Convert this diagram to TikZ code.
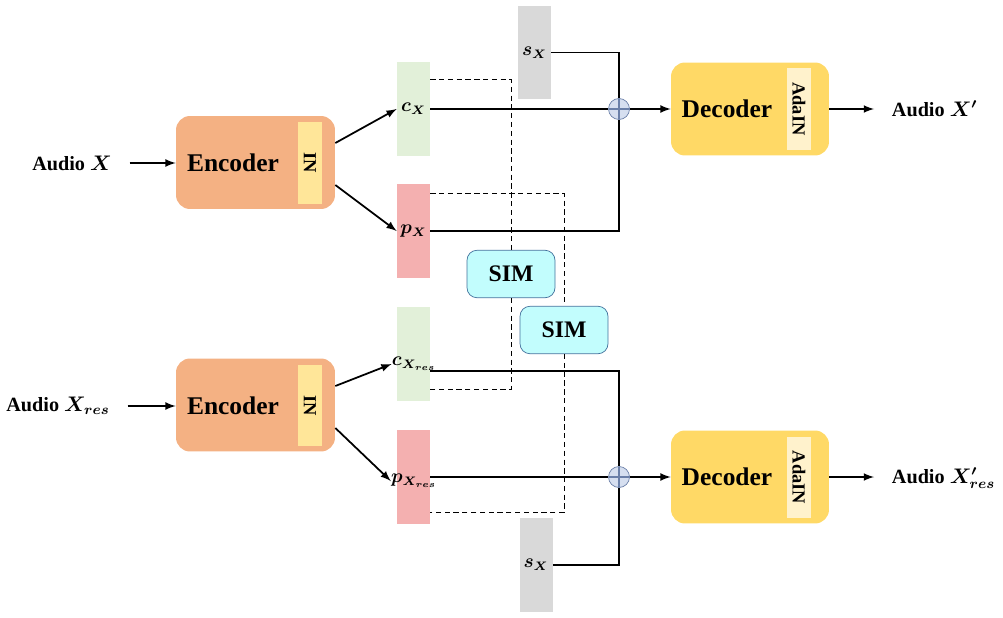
\documentclass[tikz,border=0pt]{standalone}
\usepackage{fontspec}
\setmainfont{Liberation Serif}
\usepackage{bm}
\definecolor{encfill}{HTML}{F4B183}
\definecolor{inbar}{HTML}{FFE699}
\definecolor{decfill}{HTML}{FFD966}
\definecolor{adabar}{HTML}{FFF2CC}
\definecolor{cfill}{HTML}{E2F0D9}
\definecolor{pfill}{HTML}{F4B0B0}
\definecolor{sfill}{HTML}{D9D9D9}
\definecolor{simfill}{HTML}{C2FDFD}
\definecolor{simline}{HTML}{41719C}
\definecolor{addfill}{HTML}{D6DFF0}
\definecolor{addline}{HTML}{6A7FA8}

\begin{document}
\begin{tikzpicture}[x=0.02cm,y=-0.02cm]
\tikzset{encbox/.style={fill=encfill, rounded corners=0.28cm, minimum width=3.18cm, minimum height=1.86cm},
decbox/.style={fill=decfill, rounded corners=0.28cm, minimum width=3.16cm, minimum height=1.86cm},
bar/.style={rotate=-90, minimum width=1.64cm, minimum height=0.48cm, inner sep=0pt, font=\bfseries\fontsize{10.5}{12}\selectfont},
bigtxt/.style={font=\bfseries\fontsize{14.5}{16}\selectfont},
iotxt/.style={font=\bfseries\fontsize{11.5}{13}\selectfont, inner xsep=10pt},
vec/.style={minimum width=0.66cm, minimum height=1.88cm, inner sep=1pt, font=\fontsize{10.5}{12}\selectfont},
veclbl/.style={inner sep=0pt, font=\fontsize{10.5}{12}\selectfont},
simbox/.style={draw=simline, fill=simfill, rounded corners=0.2cm, minimum width=1.76cm, minimum height=0.95cm, font=\bfseries\fontsize{13.5}{15}\selectfont},
addop/.style={circle, draw=addline, fill=addfill, minimum size=0.42cm, inner sep=0pt,
  path picture={\draw[addline, line width=0.8pt] (path picture bounding box.north) -- (path picture bounding box.south) (path picture bounding box.west) -- (path picture bounding box.east);}},
conn/.style={line width=1pt},
arr/.style={line width=1pt, -latex},
dashln/.style={dashed, line width=0.5pt, dash pattern=on 3pt off 2pt}}
\useasboundingbox (0,0) rectangle (1003,618);

% upper branch
\node[iotxt] (ain1) at (72,163) {Audio $\bm{X}$};
\node[encbox] (enc1) at (255.5,162.5) {};
\node[bigtxt] (enc1t) at (233,163) {Encoder};
\node[bar, fill=inbar] (in1) at (310,163) {IN};
\node[vec, fill=cfill] (cx) at (413.5,109) {$\bm{c_X}$};
\node[vec, fill=pfill] (px) at (413.5,231) {$\bm{p_X}$};
\node[vec, fill=sfill] (sx1) at (534.5,52.5) {$\bm{s_X}$};
\node[decbox] (dec1) at (750,109) {};
\node[bigtxt] (dec1t) at (727,109) {Decoder};
\node[bar, fill=adabar] (ada1) at (799,109) {AdaIN};
\node[iotxt, anchor=west] (aout1) at (874,109) {Audio $\bm{X'}$};

% lower branch
\node[iotxt] (ain2) at (58,406) {Audio $\bm{X_{res}}$};
\node[encbox] (enc2) at (255.5,405) {};
\node[bigtxt] (enc2t) at (233,406) {Encoder};
\node[bar, fill=inbar] (in2) at (310,405.5) {IN};
\node[vec, fill=cfill] (cxr) at (413.5,354) {};
\node[veclbl] (cxrl) at (414,364) {$\bm{c_{X_{res}}}$};
\node[vec, fill=pfill] (pxr) at (413.5,477) {};
\node[veclbl] (pxrl) at (414,481) {$\bm{p_{X_{res}}}$};
\node[vec, fill=sfill] (sx2) at (536,565) {$\bm{s_X}$};
\node[decbox] (dec2) at (750,477) {};
\node[bigtxt] (dec2t) at (727,477) {Decoder};
\node[bar, fill=adabar] (ada2) at (799,477.5) {AdaIN};
\node[iotxt, anchor=west] (aout2) at (874,478) {Audio $\bm{X'_{res}}$};

% SIM modules
\node[simbox] (sim1) at (511,274) {SIM};
\node[simbox] (sim2) at (564,330) {SIM};

\draw[dashln] ([yshift=-0.36cm]cx.north east) -| (sim1.north);
\draw[dashln] (sim1.south) |- ([yshift=0.24cm]cxr.south east);
\draw[dashln] ([yshift=-0.2cm]px.north east) -| (sim2.north);
\draw[dashln] (sim2.south) |- ([yshift=0.24cm]pxr.south east);

\draw[arr] (ain1.east) -- (ain1.east -| enc1.west);
\draw[arr] ([yshift=0.39cm]enc1.east) -- (cx.west);
\draw[arr] ([yshift=-0.45cm]enc1.east) -- (px.west);
\draw[arr] (ain2.east) -- (ain2.east -| enc2.west);
\draw[arr] ([yshift=0.38cm]enc2.east) -- (cxrl.west);
\draw[arr] ([yshift=-0.46cm]enc2.east) -- (pxrl.west);

\node[addop] (add1) at (619,109) {};
\node[addop] (add2) at (619,477) {};
\draw[conn] (cx.east) -- (add1.west);
\draw[conn] (sx1.east) -| (add1.north);
\draw[conn] (px.east) -| (add1.south);
\draw[arr] (add1.east) -- (dec1.west);
\draw[arr] (dec1.east) -- (dec1.east -| aout1.west);
\draw[conn] ([yshift=-0.34cm]cxr.east) -| (add2.north);
\draw[conn] (pxr.east) -- (add2.west);
\draw[conn] (sx2.east) -| (add2.south);
\draw[arr] (add2.east) -- (dec2.west);
\draw[arr] (dec2.east) -- (dec2.east -| aout2.west);
\end{tikzpicture}
\end{document}
